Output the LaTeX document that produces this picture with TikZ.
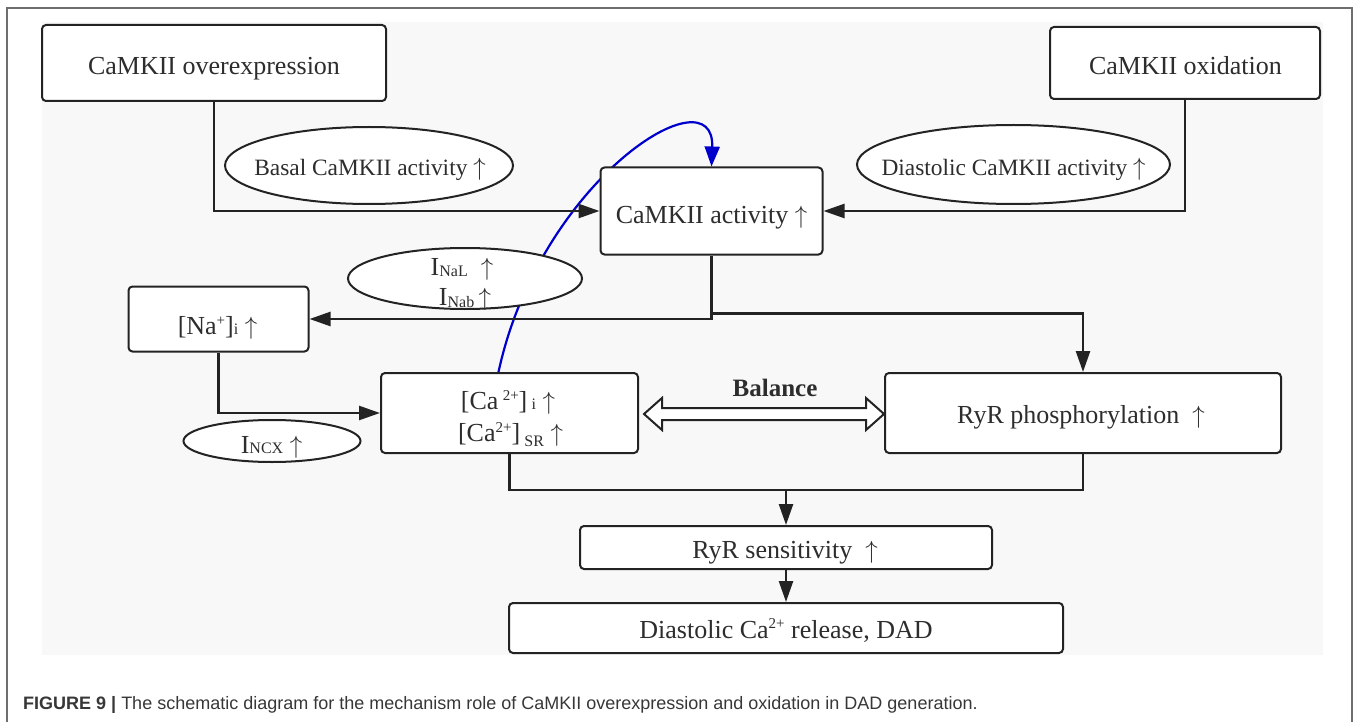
\documentclass[tikz,border=0pt]{standalone}
\usepackage{fontspec}
\setmainfont{Liberation Serif}
\newfontfamily\capfont{Liberation Sans}
\usetikzlibrary{arrows.meta,shapes.geometric,calc}
\pgfdeclarelayer{bg}
\pgfdeclarelayer{mid}
\pgfsetlayers{bg,mid,main}
\definecolor{ink}{RGB}{45,45,45}
\definecolor{linec}{RGB}{35,35,35}
\definecolor{panel}{RGB}{248,248,248}
\definecolor{framec}{RGB}{110,110,110}
\definecolor{bluearc}{RGB}{0,0,205}
\definecolor{captxt}{RGB}{55,55,55}
\newcommand{\supx}[2][8pt]{\raisebox{#1}{\fontsize{15}{15}\selectfont #2}}
\newcommand{\subx}[2][0pt]{\raisebox{-#1}{\fontsize{16}{16}\selectfont #2}}
\newcommand{\upar}{$\uparrow$}
\tikzset{
  box/.style={draw=linec, line width=2pt, rounded corners=4pt, fill=white, inner sep=0pt},
  oval/.style={ellipse, draw=linec, line width=2pt, fill=white, inner sep=0pt},
  txt/.style={anchor=base, inner sep=0pt, text=ink, font=\fontsize{26}{30}\selectfont},
  otxt/.style={anchor=base, inner sep=0pt, text=ink, font=\fontsize{23.4}{28}\selectfont},
  conn/.style={draw=linec, line width=2.5pt},
  arr/.style={conn, -{Triangle[length=21pt,width=14pt]}},
  bluearr/.style={draw=bluearc, line width=2.2pt, -{Triangle[length=20pt,width=15pt]}},
}
\begin{document}
\begin{tikzpicture}[x=1pt,y=-1pt]
\useasboundingbox (0,0) rectangle (1357,722);
\begin{pgfonlayer}{bg}
  \fill[panel] (42,22) rectangle (1323,655);
  \draw[framec, line width=1.5pt] (7,730) -- (7,8) -- (1352,8) -- (1352,730);
\end{pgfonlayer}

% boxes
\node[box, minimum width=344pt, minimum height=76pt] (over) at (214,63) {};
\node[txt] (overT) at (214,75) {CaMKII overexpression};
\node[box, minimum width=270pt, minimum height=72pt] (oxid) at (1185,63) {};
\node[txt] (oxidT) at (1185.5,75) {CaMKII oxidation};
\node[box, minimum width=222pt, minimum height=87pt] (act) at (711.5,211) {};
\node[txt] (actT) at (711.5,223) {CaMKII activity \upar};
\node[box, minimum width=180pt, minimum height=65pt] (na) at (218.5,319) {};
\node[txt] (naT) at (217.5,334) {[Na\supx[9pt]{+}]\subx{i} \upar};
\node[box, minimum width=257pt, minimum height=80pt] (ca) at (509.5,413) {};
\node[txt] (caT1) at (508,409) {[Ca\,\supx[9pt]{2+}]\,\subx{i} \upar};
\node[txt] (caT2) at (510.5,441) {[Ca\supx[9pt]{2+}]\,\subx[5pt]{SR} \upar};
\node[box, minimum width=396pt, minimum height=80pt] (ryrp) at (1083,413) {};
\node[txt] (ryrpT) at (1081,423) {RyR phosphorylation\ \ \upar};
\node[box, minimum width=412pt, minimum height=43pt] (ryrs) at (786,547.5) {};
\node[txt] (ryrsT) at (785,558) {RyR sensitivity\ \ \upar};
\node[box, minimum width=554pt, minimum height=50pt] (dad) at (786,628) {};
\node[txt] (dadT) at (786,638) {Diastolic Ca\supx[10pt]{2+} release, DAD};

% ellipses
\node[oval, minimum width=288pt, minimum height=77pt] (basal) at (369,165.5) {};
\node[otxt] (basalT) at (370,176) {Basal CaMKII activity \upar};
\node[oval, minimum width=313pt, minimum height=79pt] (diast) at (1013.5,164.5) {};
\node[otxt] (diastT) at (1013.5,176) {Diastolic CaMKII activity \upar};
\node[oval, minimum width=234pt, minimum height=61pt] (ina) at (465,278.5) {};
\node[txt] (inaT1) at (462,275) {I\subx[1pt]{NaL}\ \ \upar};
\node[txt] (inaT2) at (465,305) {I\subx[2pt]{Nab}\,\upar};
\node[oval, minimum width=177pt, minimum height=42pt] (incx) at (272,441) {};
\node[txt] (incxT) at (271.5,453) {I\subx{NCX} \upar};

% blue feedback curve
\begin{pgfonlayer}{mid}
  \draw[bluearr] ($(ca.north)+(-11,0)$) .. controls (540,180) and (715,70) .. (act.north);
\end{pgfonlayer}

% connectors
\draw[arr] (over.south) |- (act.west);
\draw[arr] (oxid.south) |- (act.east);
\draw[arr] (act.south) |- (na.east);
\coordinate (split) at ($(act.south)+(0,58)$);
\draw[arr] (split) -| (ryrp.north);
\draw[arr] (na.south) |- (ca.west);
\coordinate (join) at ($(ca.south)+(0,36)$);
\draw[conn] (ca.south) -- (join) -| (ryrp.south);
\draw[arr] (join -| ryrs.north) -- (ryrs.north);
\draw[arr] (ryrs.south) -- (dad.north);

% balance double arrow
\coordinate (bl) at ($(ca.east)+(5,1)$);
\coordinate (br) at ($(ryrp.west)+(0,1)$);
\draw[draw=linec, fill=white, line width=2pt, line join=miter]
  (bl) -- ++(18,-16) -- ++(0,10) -- ($(br)+(-18,-6)$) -- ++(0,-10) -- (br)
  -- ++(-18,16) -- ++(0,-10) -- ($(bl)+(18,6)$) -- ++(0,10) -- cycle;
\node[anchor=base, inner sep=0pt, text=ink, font=\fontsize{25}{30}\selectfont\bfseries] (balT) at (775,396) {Balance};

% caption
\node[anchor=base west, inner sep=0pt, text=captxt, font=\capfont\fontsize{18}{21}\selectfont] (cap) at (23,709)
  {\textbf{FIGURE 9 |} The schematic diagram for the mechanism role of CaMKII overexpression and oxidation in DAD generation.};
\end{tikzpicture}
\end{document}
